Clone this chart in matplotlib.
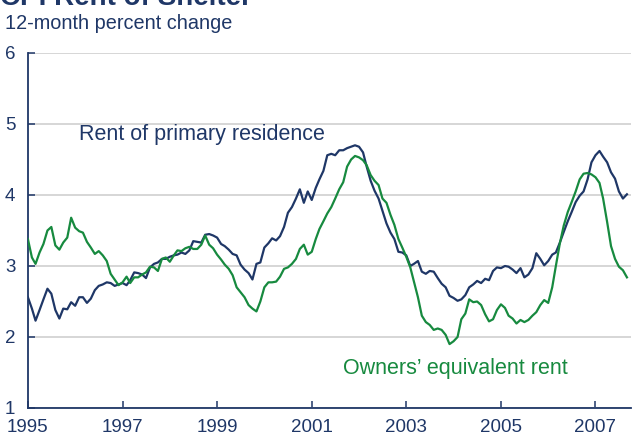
import numpy as np
import pandas as pd
import matplotlib
matplotlib.use("Agg")
import matplotlib.pyplot as plt
import matplotlib.dates as mdates

# ---------------------------------------------------------------
# data: 12-month percent change, monthly Jan 1995 - Sep 2007
# ---------------------------------------------------------------
start_month = "1995-01"

rent_primary = [
    2.56, 2.40, 2.23, 2.38, 2.53, 2.68, 2.61, 2.38, 2.26, 2.40, 2.39, 2.49,   # 1995
    2.44, 2.56, 2.56, 2.48, 2.54, 2.66, 2.72, 2.74, 2.77, 2.76, 2.72, 2.74,   # 1996
    2.76, 2.73, 2.80, 2.91, 2.90, 2.88, 2.83, 2.98, 3.03, 3.05, 3.10, 3.10,   # 1997
    3.13, 3.15, 3.16, 3.19, 3.17, 3.22, 3.35, 3.34, 3.33, 3.44, 3.45, 3.43,   # 1998
    3.40, 3.31, 3.28, 3.23, 3.17, 3.15, 3.02, 2.95, 2.90, 2.81, 3.03, 3.05,   # 1999
    3.26, 3.32, 3.39, 3.36, 3.42, 3.55, 3.75, 3.83, 3.95, 4.08, 3.89, 4.05,   # 2000
    3.93, 4.10, 4.22, 4.34, 4.56, 4.58, 4.56, 4.63, 4.63, 4.66, 4.68, 4.70,   # 2001
    4.68, 4.60, 4.40, 4.20, 4.06, 3.95, 3.78, 3.60, 3.47, 3.38, 3.20, 3.19,   # 2002
    3.15, 3.00, 3.03, 3.07, 2.92, 2.89, 2.93, 2.92, 2.83, 2.75, 2.70, 2.58,   # 2003
    2.55, 2.51, 2.53, 2.59, 2.70, 2.74, 2.79, 2.76, 2.82, 2.80, 2.93, 2.98,   # 2004
    2.97, 3.00, 2.99, 2.95, 2.90, 2.97, 2.84, 2.88, 2.97, 3.18, 3.10, 3.01,   # 2005
    3.07, 3.16, 3.19, 3.33, 3.48, 3.63, 3.76, 3.90, 3.99, 4.05, 4.22, 4.46,   # 2006
    4.56, 4.62, 4.54, 4.46, 4.32, 4.23, 4.05, 3.95, 4.01,                     # 2007
]

owners_equiv = [
    3.38, 3.12, 3.03, 3.19, 3.31, 3.50, 3.55, 3.29, 3.23, 3.33, 3.40, 3.68,   # 1995
    3.54, 3.49, 3.47, 3.34, 3.26, 3.17, 3.21, 3.15, 3.07, 2.89, 2.81, 2.73,   # 1996
    2.77, 2.85, 2.76, 2.84, 2.84, 2.88, 2.91, 2.99, 2.98, 2.93, 3.10, 3.12,   # 1997
    3.06, 3.15, 3.22, 3.21, 3.25, 3.27, 3.24, 3.24, 3.30, 3.43, 3.30, 3.25,   # 1998
    3.16, 3.09, 3.02, 2.96, 2.87, 2.70, 2.63, 2.56, 2.45, 2.40, 2.36, 2.50,   # 1999
    2.70, 2.77, 2.77, 2.78, 2.85, 2.96, 2.98, 3.03, 3.10, 3.24, 3.30, 3.16,   # 2000
    3.20, 3.38, 3.52, 3.63, 3.74, 3.83, 3.95, 4.08, 4.18, 4.40, 4.50, 4.55,   # 2001
    4.53, 4.49, 4.42, 4.28, 4.20, 4.14, 3.95, 3.89, 3.72, 3.58, 3.38, 3.26,   # 2002
    3.13, 2.98, 2.78, 2.56, 2.30, 2.21, 2.17, 2.10, 2.12, 2.10, 2.03, 1.90,   # 2003
    1.94, 2.00, 2.25, 2.33, 2.53, 2.49, 2.50, 2.45, 2.32, 2.22, 2.25, 2.38,   # 2004
    2.46, 2.41, 2.30, 2.26, 2.19, 2.24, 2.21, 2.24, 2.30, 2.35, 2.45, 2.52,   # 2005
    2.48, 2.70, 3.00, 3.32, 3.57, 3.76, 3.90, 4.05, 4.22, 4.30, 4.31, 4.29,   # 2006
    4.25, 4.17, 3.95, 3.62, 3.28, 3.10, 2.99, 2.94, 2.84,                     # 2007
]

year_ticks = [1995, 1997, 1999, 2001, 2003, 2005, 2007]
y_ticks = [1, 2, 3, 4, 5, 6]

navy = "#1f3767"
green = "#178a3f"
grid_grey = "#d3d3d3"

plt.rcParams["font.family"] = ["Liberation Sans", "DejaVu Sans"]

months = pd.date_range(start_month, periods=len(rent_primary), freq="MS")

fig = plt.figure(figsize=(6.34, 4.38), dpi=100)
ax = fig.add_axes([0.044, 0.0685, 0.951, 0.8105])

ax.plot(months, rent_primary, color=navy, lw=1.6, zorder=3)
ax.plot(months, owners_equiv, color=green, lw=1.6, zorder=3)

ax.set_ylim(1, 6)
ax.set_yticks(y_ticks)
ax.set_xlim(pd.Timestamp("1995-01-01"), pd.Timestamp("2007-10-01"))
ax.set_xticks([pd.Timestamp(f"{y}-01-01") for y in year_ticks])
ax.xaxis.set_major_formatter(mdates.DateFormatter("%Y"))

# grid + spines
ax.grid(axis="y", color=grid_grey, lw=1.3, zorder=0)
ax.set_axisbelow(True)
for side in ["top", "right"]:
    ax.spines[side].set_visible(False)
for side in ["left", "bottom"]:
    ax.spines[side].set_color(navy)
    ax.spines[side].set_linewidth(1.3)

ax.tick_params(axis="both", direction="in", length=5, width=1.1, color=navy,
               labelcolor=navy, labelsize=13.5)
ax.tick_params(axis="y", pad=9)
ax.tick_params(axis="x", pad=8)

# series labels
ax.text(pd.Timestamp("1996-02-01"), 4.85, "Rent of primary residence",
        color=navy, fontsize=15.5, ha="left", va="center")
ax.text(pd.Timestamp("2001-09-01"), 1.56, "Owners\u2019 equivalent rent",
        color=green, fontsize=15.5, ha="left", va="center")

# title (cut off at top) and unit label
fig.text(0.0, 0.988, "CPI Rent of Shelter", color=navy, fontsize=20,
         fontweight="bold", ha="left", va="baseline")
fig.text(0.008, 0.946, "12-month percent change", color=navy, fontsize=14.3,
         ha="left", va="center")

fig.savefig("out.png", dpi=100)
